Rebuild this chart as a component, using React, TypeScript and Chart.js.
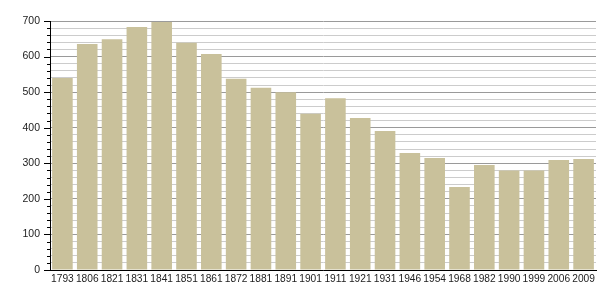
import React, { useEffect, useRef } from "react";
import { Chart, registerables } from "chart.js";

Chart.register(...registerables);

const years = ["1793", "1806", "1821", "1831", "1841", "1851", "1861", "1872", "1881", "1891", "1901", "1911", "1921", "1931", "1946", "1954", "1968", "1982", "1990", "1999", "2006", "2009"];
const population = [540, 635, 649, 683, 697, 639, 607, 538, 512, 500, 439, 483, 427, 391, 329, 315, 233, 295, 280, 280, 309, 312];
const yMax = 700;
const yStep = 20;
const yLabelStep = 100;

const yTickMarks = {
  id: "yTickMarks",
  afterDraw(chart: any) {
    const y = chart.scales.y;
    const ctx = chart.ctx;
    const x0 = chart.chartArea.left;
    ctx.save();
    ctx.strokeStyle = "#000";
    ctx.lineWidth = 1;
    y.ticks.forEach((t: any) => {
      const py = Math.round(y.getPixelForValue(t.value)) + 0.5;
      const len = t.value % yLabelStep === 0 ? 6 : 3;
      ctx.beginPath();
      ctx.moveTo(x0 - len, py);
      ctx.lineTo(x0, py);
      ctx.stroke();
    });
    ctx.restore();
  },
};

export default function App() {
  const ref = useRef<HTMLCanvasElement>(null);
  useEffect(() => {
    document.body.style.margin = "0";
    const chart = new Chart(ref.current!, {
      type: "bar",
      data: {
        labels: years,
        datasets: [
          {
            data: population,
            backgroundColor: "#c9c19b",
            borderWidth: 0,
            barPercentage: 0.83,
            categoryPercentage: 1,
          },
        ],
      },
      options: {
        animation: false,
        responsive: false,
        layout: { padding: { top: 21, right: 9, left: 0, bottom: 0 } },
        plugins: { legend: { display: false }, tooltip: { enabled: false } },
        scales: {
          x: {
            grid: { display: false, drawTicks: false, tickLength: 0 },
            border: { display: true, color: "#000", width: 1 },
            ticks: {
              color: "#222",
              font: { family: "Liberation Sans", size: 10.2 },
              padding: 3,
              maxRotation: 0,
              autoSkip: false,
            },
            afterFit: (s: any) => {
              s.height = 30;
            },
          },
          y: {
            min: 0,
            max: yMax,
            grid: {
              drawTicks: false,
              color: (c: any) => (c.tick && c.tick.value % yLabelStep === 0 ? "#9a9a9a" : "#cccccc"),
              lineWidth: 1,
            },
            border: { display: true, color: "#000", width: 1 },
            ticks: {
              stepSize: yStep,
              padding: 10,
              color: "#222",
              font: { family: "Liberation Sans", size: 10.5 },
              callback: (v: any) => (Number(v) % yLabelStep === 0 ? String(v) : ""),
              autoSkip: false,
            },
            afterFit: (s: any) => {
              s.width = 50;
            },
          },
        },
      },
      plugins: [yTickMarks],
    });
    return () => chart.destroy();
  }, []);
  return (
    <div style={{ width: 605, height: 300 }}>
      <canvas ref={ref} width={605} height={300} />
    </div>
  );
}
